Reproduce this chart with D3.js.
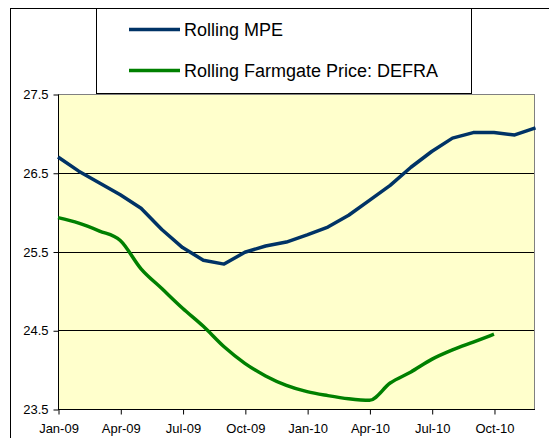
<!DOCTYPE html>
<html>
<head>
<meta charset="utf-8">
<script src="https://cdn.jsdelivr.net/npm/d3@7"></script>
<style>
  body { margin: 0; background: #fff; }
  svg { display: block; font-family: "Liberation Sans", Arial, sans-serif; }
</style>
</head>
<body>
<div id="chart"></div>
<script>
// monthly points, Jan-09 .. Dec-10
var months = ['Jan-09','Feb-09','Mar-09','Apr-09','May-09','Jun-09','Jul-09','Aug-09','Sep-09','Oct-09','Nov-09','Dec-09',
              'Jan-10','Feb-10','Mar-10','Apr-10','May-10','Jun-10','Jul-10','Aug-10','Sep-10','Oct-10','Nov-10','Dec-10'];
var tickMonths = ['Jan-09','Apr-09','Jul-09','Oct-09','Jan-10','Apr-10','Jul-10','Oct-10'];
var yTicks = [23.5, 24.5, 25.5, 26.5, 27.5];

var mpe = [26.70, 26.52, 26.37, 26.22, 26.05, 25.78, 25.55, 25.39, 25.34, 25.49, 25.57, 25.62,
           25.71, 25.81, 25.96, 26.15, 26.34, 26.57, 26.77, 26.94, 27.01, 27.01, 26.98, 27.07];
var defra = [25.93, 25.86, 25.76, 25.64, 25.28, 25.03, 24.78, 24.55, 24.29, 24.08, 23.92, 23.80,
             23.72, 23.67, 23.63, 23.61, 23.83, 23.97, 24.13, 24.25, 24.35, 24.45];

var W = 549, H = 438;
var pLeft = 58, pRight = 534, pTop = 94, pBottom = 409;

var svg = d3.select('#chart').append('svg')
  .attr('width', W).attr('height', H);

// outer chart border
svg.append('rect')
  .attr('x', 10.5).attr('y', 8.5).attr('width', 600).attr('height', 500)
  .style('fill', '#fff').style('stroke', '#000');

var x = d3.scaleLinear().domain([0, 23]).range([pLeft, pRight + 1.5]);
var y = d3.scaleLinear().domain([23.5, 27.5]).range([pBottom, pTop]);

// plot area
svg.append('rect')
  .attr('x', pLeft + 0.5).attr('y', pTop + 0.5).attr('width', pRight - pLeft).attr('height', pBottom - pTop)
  .style('fill', '#ffffcc').style('stroke', '#808080');

// gridlines
svg.append('g').selectAll('line')
  .data(yTicks.slice(1, -1))
  .enter().append('line')
  .attr('x1', pLeft).attr('x2', pRight)
  .attr('y1', function(d){ return Math.round(y(d)) + 0.5; })
  .attr('y2', function(d){ return Math.round(y(d)) + 0.5; })
  .style('stroke', '#000').style('stroke-width', 1);

// y axis
var yAxis = d3.axisLeft(y).tickValues(yTicks).tickSize(5).tickPadding(5)
  .tickFormat(d3.format('.1f'));
svg.append('g').attr('transform', 'translate(' + (pLeft + 0.5) + ',0.5)')
  .call(yAxis)
  .call(function(g){
    g.select('.domain').attr('d', 'M0,' + pTop + 'V' + pBottom).style('stroke', '#000');
    g.selectAll('text').style('font-size', '13px').style('fill', '#000').style('font-family', 'Liberation Sans, Arial');
  });

// x axis
var xAxis = d3.axisBottom(x)
  .tickValues(tickMonths.map(function(m){ return months.indexOf(m); }))
  .tickSize(5).tickPadding(9).tickSizeOuter(0)
  .tickFormat(function(i){ return months[i]; });
svg.append('g').attr('transform', 'translate(0.5,' + (pBottom + 0.5) + ')')
  .call(xAxis)
  .call(function(g){
    g.select('.domain').attr('d', 'M' + (pLeft - 0.5) + ',0H' + (pRight + 0.5)).style('stroke', '#000');
    g.selectAll('text').style('font-size', '13px').style('fill', '#000').style('font-family', 'Liberation Sans, Arial');
  });

// lines
var line = d3.line()
  .x(function(d, i){ return x(i); })
  .y(function(d){ return y(d); });

svg.append('path').datum(defra)
  .attr('d', line.curve(d3.curveMonotoneX))
  .style('fill', 'none').style('stroke', '#008000').style('stroke-width', 3.5)
  .style('stroke-linejoin', 'round');

svg.append('path').datum(mpe)
  .attr('d', line.curve(d3.curveLinear))
  .style('fill', 'none').style('stroke', '#003366').style('stroke-width', 3.5)
  .style('stroke-linejoin', 'round');

// legend
var legend = svg.append('g');
legend.append('rect')
  .attr('x', 96.5).attr('y', 8.5).attr('width', 375).attr('height', 85)
  .style('fill', '#fff').style('stroke', '#000');

var legendItems = [
  { name: 'Rolling MPE', color: '#003366', y: 29.5 },
  { name: 'Rolling Farmgate Price: DEFRA', color: '#008000', y: 70.5 }
];
var item = legend.selectAll('.item').data(legendItems).enter().append('g');
item.append('line')
  .attr('x1', 129).attr('x2', 180)
  .attr('y1', function(d){ return d.y; }).attr('y2', function(d){ return d.y; })
  .style('stroke', function(d){ return d.color; }).style('stroke-width', 3.5);
item.append('text')
  .attr('x', 184).attr('y', function(d){ return d.y; })
  .attr('dy', '0.35em')
  .style('font-size', '18px')
  .text(function(d){ return d.name; });
</script>
</body>
</html>
